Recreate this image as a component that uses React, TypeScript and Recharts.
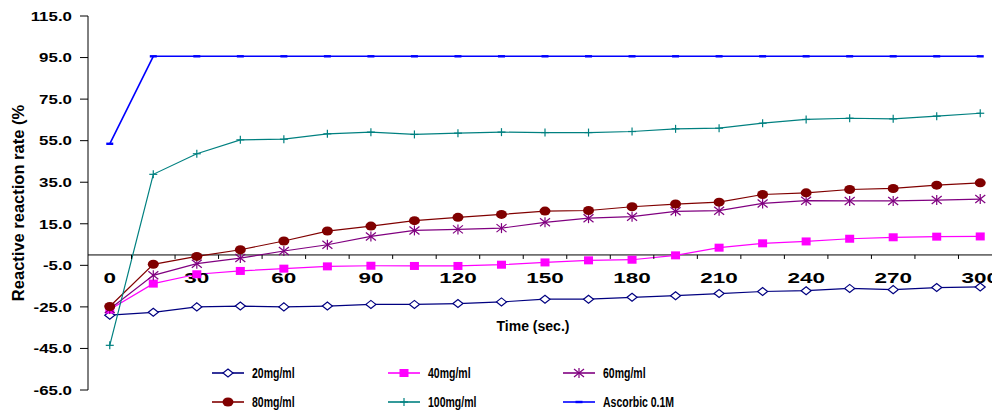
import React from 'react';
import { LineChart, Line, XAxis, YAxis, ReferenceLine, ReferenceDot, Customized } from 'recharts';

// time points in seconds
const times = [0, 15, 30, 45, 60, 75, 90, 105, 120, 135, 150, 165, 180, 195, 210, 225, 240, 255, 270, 285, 300];

const mg20 = [-29.0, -27.6, -25.0, -24.6, -25.0, -24.6, -23.8, -23.8, -23.4, -22.6, -21.3, -21.3, -20.4, -19.6, -18.6, -17.6, -17.2, -16.1, -16.7, -15.7, -15.4];
const mg40 = [-26.3, -13.8, -9.3, -7.7, -6.6, -5.5, -5.2, -5.3, -5.3, -4.7, -3.6, -2.6, -2.3, -0.2, 3.5, 5.6, 6.5, 7.8, 8.5, 8.8, 8.9];
const mg60 = [-26.0, -9.8, -4.2, -1.5, 1.9, 4.9, 8.9, 11.8, 12.3, 12.9, 15.7, 17.7, 18.4, 21.0, 21.3, 24.8, 26.1, 26.0, 26.0, 26.4, 26.9];
const mg80 = [-24.8, -4.5, -0.7, 2.5, 6.7, 11.5, 13.9, 16.5, 18.1, 19.5, 21.1, 21.4, 23.2, 24.5, 25.4, 29.1, 29.9, 31.5, 32.0, 33.6, 34.7];
const mg100 = [-43.5, 38.8, 48.7, 55.4, 55.7, 58.3, 59.1, 58.0, 58.6, 59.1, 58.9, 58.9, 59.4, 60.7, 61.0, 63.4, 65.2, 65.8, 65.5, 66.8, 68.2];
const ascorbic = [53.5, 95.6, 95.6, 95.6, 95.6, 95.6, 95.6, 95.6, 95.6, 95.6, 95.6, 95.6, 95.6, 95.6, 95.6, 95.6, 95.6, 95.6, 95.6, 95.6, 95.6];

const yTicks = [-65, -45, -25, -5, 15, 35, 55, 75, 95, 115];
const xLabels = [0, 30, 60, 90, 120, 150, 180, 210, 240, 270, 300];

const data = times.map((t, i) => ({
  t,
  mg20: mg20[i],
  mg40: mg40[i],
  mg60: mg60[i],
  mg80: mg80[i],
  mg100: mg100[i],
  ascorbic: ascorbic[i],
}));

// tick marks sit between the time points
const midTicks = times.map((t) => t + 7.5);

const FONT = '"Liberation Sans", Arial, sans-serif';

const diamond = (cx: number, cy: number, k?: any) => (
  <path key={k} d={`M${cx - 5},${cy} L${cx},${cy - 4} L${cx + 5},${cy} L${cx},${cy + 4} Z`} fill="#fff" stroke="#000080" strokeWidth={1.2} />
);
const square = (cx: number, cy: number, k?: any) => (
  <rect key={k} x={cx - 4.5} y={cy - 4} width={9} height={8} fill="#FF00FF" />
);
const star = (cx: number, cy: number, k?: any) => (
  <g key={k} stroke="#800080" strokeWidth={1.2}>
    <line x1={cx - 5} y1={cy - 4} x2={cx + 5} y2={cy + 4} />
    <line x1={cx - 5} y1={cy + 4} x2={cx + 5} y2={cy - 4} />
    <line x1={cx} y1={cy - 5} x2={cx} y2={cy + 5} />
  </g>
);
const circle = (cx: number, cy: number, k?: any) => (
  <ellipse key={k} cx={cx} cy={cy} rx={5.5} ry={4.5} fill="#800000" />
);
const plus = (cx: number, cy: number, k?: any) => (
  <g key={k} stroke="#008080" strokeWidth={1.2}>
    <line x1={cx - 4} y1={cy} x2={cx + 4} y2={cy} />
    <line x1={cx} y1={cy - 4} x2={cx} y2={cy + 4} />
  </g>
);
const dash = (cx: number, cy: number, k?: any) => (
  <rect key={k} x={cx - 3.5} y={cy - 1.2} width={7} height={2.4} fill="#0000FF" />
);

const series = [
  { key: 'mg20', name: '20mg/ml', color: '#000080', marker: diamond, width: 1.2 },
  { key: 'mg40', name: '40mg/ml', color: '#FF00FF', marker: square, width: 1.2 },
  { key: 'mg60', name: '60mg/ml', color: '#800080', marker: star, width: 1.2 },
  { key: 'mg80', name: '80mg/ml', color: '#800000', marker: circle, width: 1.2 },
  { key: 'mg100', name: '100mg/ml', color: '#008080', marker: plus, width: 1.2 },
  { key: 'ascorbic', name: 'Ascorbic 0.1M', color: '#0000FF', marker: dash, width: 1.6 },
];

const legendCols = [212, 388, 563];
const legendRows = [373, 402];

const Overlay = () => (
  <g fontFamily={FONT} fontWeight="bold" fill="#000">
    <text transform="translate(24,203) rotate(-90)" textAnchor="middle" fontSize={16.5}>
      Reactive reaction rate (%
    </text>
    <text x={533} y={331} textAnchor="middle" fontSize={14}>
      Time (sec.)
    </text>
    {series.map((s, i) => {
      const x = legendCols[i % 3];
      const y = legendRows[Math.floor(i / 3)];
      return (
        <g key={s.key}>
          <line x1={x} y1={y} x2={x + 32} y2={y} stroke={s.color} strokeWidth={1.6} />
          {s.marker(x + 16, y)}
          <text transform={`translate(${x + 40},${y}) scale(0.75,1)`} dominantBaseline="central" fontSize={14}>
            {s.name}
          </text>
        </g>
      );
    })}
  </g>
);

const YTick = (p: any) => (
  <text
    transform={`translate(${p.x},${p.y}) scale(1.3,1)`}
    textAnchor="end"
    dominantBaseline="central"
    fontFamily={FONT}
    fontWeight="bold"
    fontSize={13}
    fill="#000"
  >
    {Number(p.payload.value).toFixed(1)}
  </text>
);

export default function App() {
  return (
    <div style={{ position: 'fixed', top: 0, left: 0, width: 992, height: 411, overflow: 'hidden', background: '#fff' }}>
      <LineChart width={1010} height={411} data={data} margin={{ top: 16, right: 8, bottom: 21, left: 0 }}>
        <XAxis dataKey="t" type="number" domain={[-7.5, 307.5]} hide />
        <YAxis
          type="number"
          domain={[-65, 115]}
          ticks={yTicks}
          interval={0}
          width={88}
          stroke="#000"
          tickSize={8}
          tickMargin={8}
          tick={YTick}
        />
        <ReferenceLine y={0} stroke="#000" strokeWidth={1} />
        {midTicks.map((t) => (
          <ReferenceDot
            key={'m' + t}
            x={t}
            y={0}
            r={0}
            ifOverflow="visible"
            shape={(p: any) => <line x1={p.cx} x2={p.cx} y1={p.cy} y2={p.cy + 4} stroke="#000" strokeWidth={1} />}
          />
        ))}
        {xLabels.map((t) => (
          <ReferenceDot
            key={'l' + t}
            x={t}
            y={0}
            r={0}
            ifOverflow="visible"
            shape={(p: any) => (
              <text
                transform={`translate(${p.cx},${p.cy + 22.5}) scale(1.5,1)`}
                textAnchor="middle"
                dominantBaseline="central"
                fontFamily={FONT}
                fontWeight="bold"
                fontSize={15}
                fill="#000"
              >
                {t}
              </text>
            )}
          />
        ))}
        {series.map((s) => (
          <Line
            key={s.key}
            dataKey={s.key}
            name={s.name}
            stroke={s.color}
            strokeWidth={s.width}
            isAnimationActive={false}
            dot={(p: any) => s.marker(p.cx, p.cy, p.index)}
            activeDot={false}
          />
        ))}
        <Customized component={Overlay} />
      </LineChart>
    </div>
  );
}
